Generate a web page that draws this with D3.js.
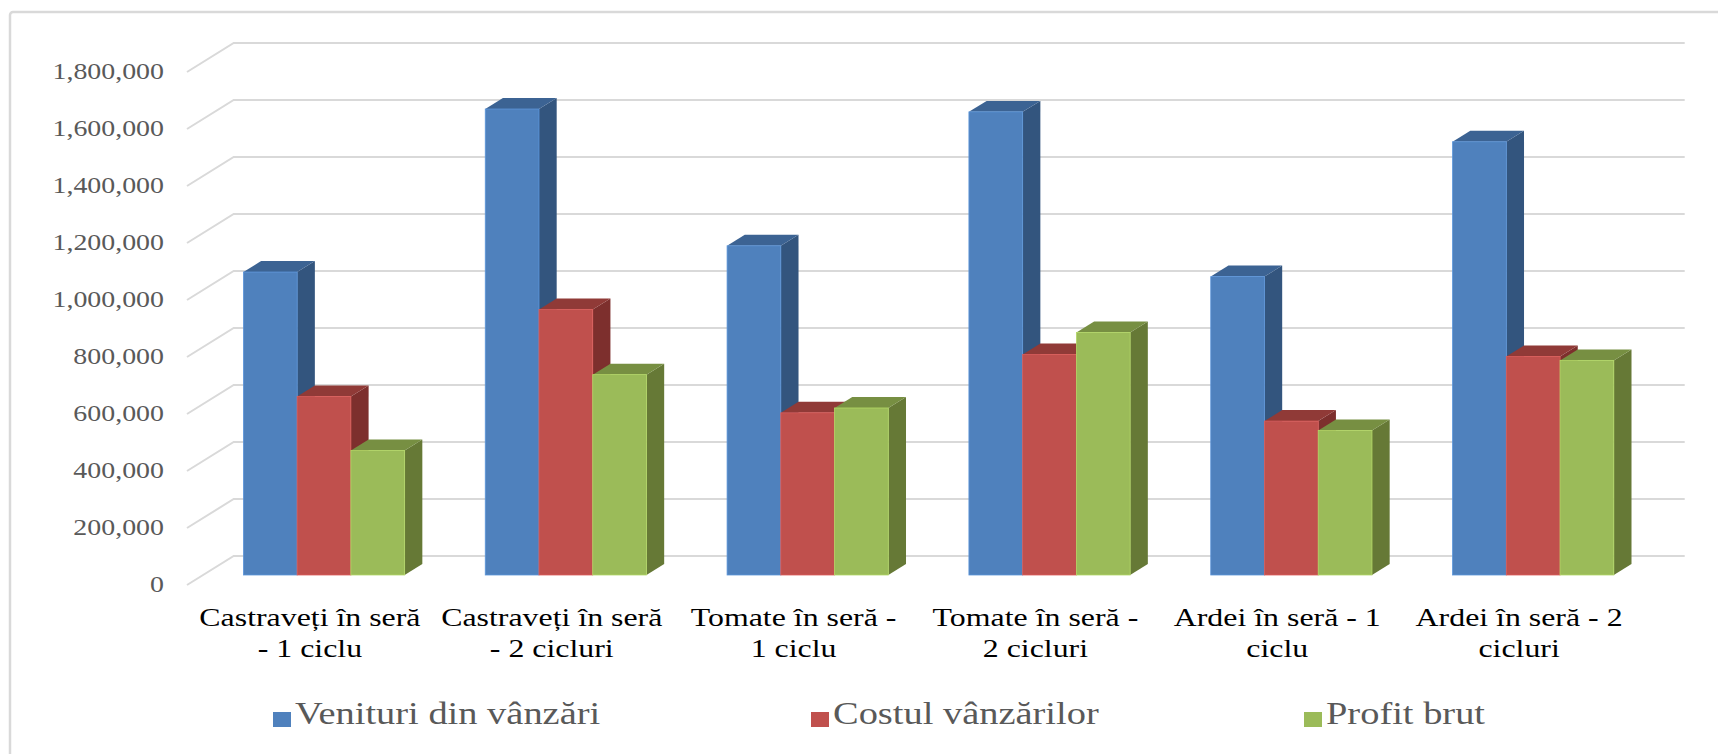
<!DOCTYPE html>
<html>
<head>
<meta charset="utf-8">
<script src="https://cdnjs.cloudflare.com/ajax/libs/d3/7.8.5/d3.min.js"></script>
<style>
  body { margin: 0; background: #fff; }
  text { font-family: "Liberation Serif", "Times New Roman", serif; }
</style>
</head>
<body>
<div id="chart"></div>
<script>
// ============ data ============
var categories = [
  "Castraveți în seră\n- 1 ciclu",
  "Castraveți în seră\n- 2 cicluri",
  "Tomate în seră -\n1 ciclu",
  "Tomate în seră -\n2 cicluri",
  "Ardei în seră - 1\nciclu",
  "Ardei în seră - 2\ncicluri"
];
var seriesNames = ["Venituri din vânzări", "Costul vânzărilor", "Profit brut"];
var venituri = [1063000, 1635000, 1155000, 1625000, 1047000, 1520000];
var costul   = [626000, 932000, 569000, 774000, 540000, 767000];
var profit   = [437000, 703000, 586000, 851000, 507000, 753000];
var yTicks = [0, 200000, 400000, 600000, 800000, 1000000, 1200000, 1400000, 1600000, 1800000];

var seriesValues = [venituri, costul, profit];
var colors = [
  { front: "#4f81bd", side: "#33557e", top: "#3c6393" },
  { front: "#c0504d", side: "#7d2f2d", top: "#903a37" },
  { front: "#9bbb59", side: "#667936", top: "#778f42" }
];

// ============ chart setup ============
var svgWidth = 1718;
var svgHeight = 754;
var stretch = 1.24;   // text in the reference is widened horizontally

var frontX0 = 187, frontX1 = 1638;
var frontBase = 585;
var depth = { dx: 46.7, dy: -29 };
var barFront = 0.345, barBack = 0.724;   // depth fractions of the columns

var svg = d3.select("#chart")
  .append("svg")
  .attr("width", svgWidth)
  .attr("height", svgHeight);

// outer frame
svg.append("rect")
  .attr("x", 10).attr("y", 12)
  .attr("width", svgWidth + 20).attr("height", svgHeight + 20)
  .attr("rx", 3)
  .attr("fill", "none")
  .attr("stroke", "#d9d9d9")
  .attr("stroke-width", 2.5);

var y = d3.scaleLinear()
  .domain([0, 1800000])
  .range([frontBase, frontBase - 513]);

var x0 = d3.scaleBand()
  .domain(categories)
  .range([frontX0, frontX1])
  .paddingInner(1 / 3)
  .paddingOuter(1 / 6);

var x1 = d3.scaleBand()
  .domain(d3.range(seriesNames.length))
  .range([0, x0.bandwidth()]);

// ============ walls / gridlines ============
var grid = svg.append("g");
yTicks.forEach(function(t) {
  var yf = y(t);
  grid.append("path")
    .attr("d", "M" + frontX0 + "," + yf +
      "L" + (frontX0 + depth.dx) + "," + (yf + depth.dy) +
      "L" + (frontX1 + depth.dx) + "," + (yf + depth.dy))
    .attr("fill", "none")
    .attr("stroke", "#d9d9d9")
    .attr("stroke-width", 2);
});

// y labels
svg.append("g").selectAll("text")
  .data(yTicks)
  .enter()
  .append("text")
  .attr("transform", d => `translate(164, ${y(d) + 6.5}) scale(${stretch},1)`)
  .attr("text-anchor", "end")
  .attr("fill", "#595959")
  .style("font-size", "22.5px")
  .text(d => d3.format(",")(d));

// ============ 3D columns ============
var bars = svg.append("g");
var fdx = depth.dx * barFront, fdy = depth.dy * barFront;
var bdx = depth.dx * (barBack - barFront), bdy = depth.dy * (barBack - barFront);

categories.forEach(function(cat, ci) {
  seriesValues.forEach(function(vals, si) {
    var xl = x0(cat) + x1(si) + fdx;
    var xr = xl + x1.bandwidth();
    var yb = frontBase + fdy;
    var yt = y(vals[ci]) + fdy;
    var c = colors[si];
    // side
    bars.append("path")
      .attr("d", `M${xr},${yb}L${xr + bdx},${yb + bdy}L${xr + bdx},${yt + bdy}L${xr},${yt}Z`)
      .attr("fill", c.side);
    // top
    bars.append("path")
      .attr("d", `M${xl},${yt}L${xl + bdx},${yt + bdy}L${xr + bdx},${yt + bdy}L${xr},${yt}Z`)
      .attr("fill", c.top);
    // front
    bars.append("rect")
      .attr("x", xl)
      .attr("y", yt)
      .attr("width", x1.bandwidth())
      .attr("height", yb - yt)
      .attr("fill", c.front)
      .attr("stroke", d3.color(c.front).brighter(0.4))
      .attr("stroke-width", 0.8);
  });
});

// ============ category labels ============
var catLabels = svg.append("g");
categories.forEach(function(cat) {
  var cx = x0(cat) + x0.bandwidth() / 2 + 2;
  cat.split("\n").forEach(function(line, li) {
    catLabels.append("text")
      .attr("transform", `translate(${cx}, ${626 + li * 31}) scale(${stretch},1)`)
      .attr("text-anchor", "middle")
      .attr("fill", "#000")
      .style("font-size", "25.7px")
      .text(line);
  });
});

// ============ legend ============
var legendX = [273, 811, 1304];
var legend = svg.append("g");
seriesNames.forEach(function(name, i) {
  legend.append("rect")
    .attr("x", legendX[i])
    .attr("y", 712)
    .attr("width", 18)
    .attr("height", 15)
    .attr("fill", colors[i].front);
  legend.append("text")
    .attr("transform", `translate(${legendX[i] + 22}, 724) scale(${stretch},1)`)
    .attr("fill", "#595959")
    .style("font-size", "31px")
    .text(name);
});
</script>
</body>
</html>
